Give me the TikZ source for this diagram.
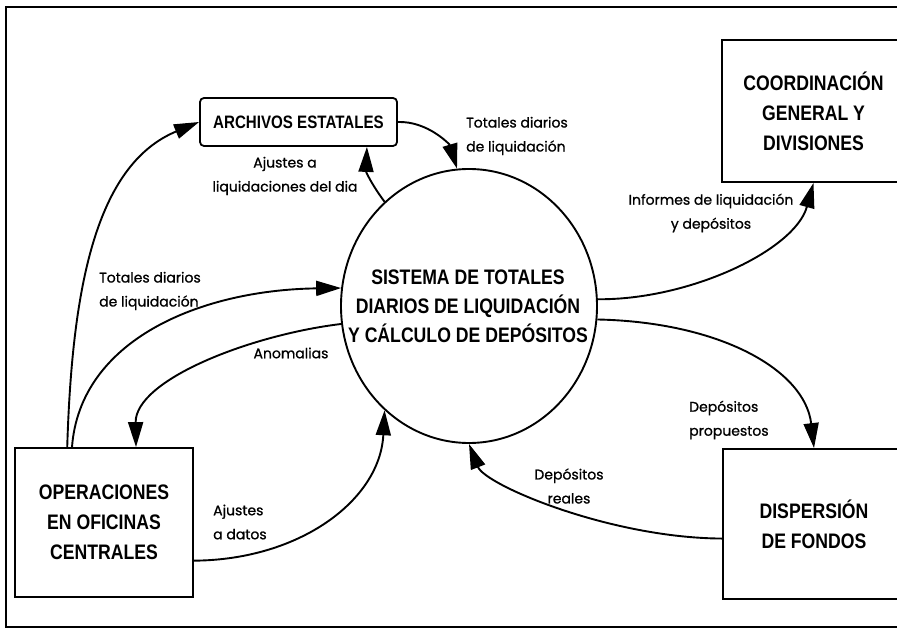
\documentclass[tikz,border=0pt]{standalone}
\usepackage{fontspec}
\setmainfont{Poppins}[FakeBold=0.9]
\newfontfamily\capsfont{Liberation Sans}[FakeStretch=0.84]
\usetikzlibrary{positioning,shapes.geometric,arrows.meta}

\begin{document}
\begin{tikzpicture}[x=1pt, y=-1pt,
    proceso/.style={ellipse, draw, line width=1.9pt, minimum width=256pt, minimum height=274pt, inner sep=0pt},
    entidad/.style={rectangle, draw, line width=1.8pt, align=center, on grid,
        font={\capsfont\bfseries\fontsize{21}{30}\selectfont}},
    archivo/.style={entidad, rounded corners=4pt, font={\capsfont\bfseries\fontsize{18}{22}\selectfont}},
    flujo/.style={line width=1.9pt, -{Triangle[length=25pt, width=15pt]}},
    etiqueta/.style={align=center, inner sep=0pt, font={\fontsize{14}{24}\selectfont}}]
    \useasboundingbox (0,0) rectangle (897,631);
    \clip (0,0) rectangle (897,631);
    \draw [line width=2pt] (6,7) rectangle (910,627);

    \node [proceso] (sis) at (469,306) {};
    \node [align=center, font={\capsfont\bfseries\fontsize{21}{29}\selectfont}] (sis_txt) at (468,306)
        {SISTEMA DE TOTALES\\DIARIOS DE LIQUIDACIÓN\\Y CÁLCULO DE DEPÓSITOS};
    \node [archivo, minimum width=197pt, minimum height=48pt, above left=184pt and 170.5pt of sis] (arch) {ARCHIVOS ESTATALES};
    \node [entidad, minimum width=183pt, minimum height=142pt, above right=195pt and 344.5pt of sis] (coord)
        {COORDINACIÓN\\GENERAL Y\\DIVISIONES};
    \node [entidad, minimum width=178pt, minimum height=149pt, below left=216.5pt and 365pt of sis] (ops)
        {OPERACIONES\\EN OFICINAS\\CENTRALES};
    \node [entidad, minimum width=182pt, minimum height=150pt, below right=218pt and 345pt of sis] (disp)
        {DISPERSIÓN\\DE FONDOS};

    % flujos de datos
    \draw [flujo] (ops.116) .. controls (72,290) and (95,165) .. (arch.west);
    \draw [flujo] (sis.129) .. controls (372,185) and (366,172) .. (arch.-20);
    \draw [flujo] (arch.east) .. controls (428,121) and (450,145) .. (sis.95);
    \draw [flujo] (sis.3) .. controls (690,300) and (795,250) .. (coord.south);
    \draw [flujo] (sis.-6) .. controls (720,322) and (805,370) .. (disp.north);
    \draw [flujo] (disp.189) .. controls (610,538) and (485,485) .. (sis.south);
    \draw [flujo] (ops.113) .. controls (80,340) and (200,290) .. (sis.172);
    \draw [flujo] (sis.188) .. controls (250,335) and (135,380) .. (ops.67);
    \draw [flujo] (ops.-23) .. controls (300,560) and (380,500) .. (sis.-129);

    \node [etiqueta] (l_ajliq) at (285,176) {Ajustes a\\liquidaciones del dia};
    \node [etiqueta, align=left, anchor=west] (l_totarch) at (466,136) {Totales diarios\\de liquidación};
    \node [etiqueta] (l_inf) at (711,213) {Informes de liquidación\\y depósitos};
    \node [etiqueta, align=left, anchor=west] (l_totops) at (99,291) {Totales diarios\\de liquidación};
    \node [etiqueta] (l_anom) at (291,353) {Anomalias};
    \node [etiqueta, align=left, anchor=west] (l_ajdat) at (213,522) {Ajustes\\a datos};
    \node [etiqueta, align=left, anchor=west] (l_deprop) at (689,420) {Depósitos\\propuestos};
    \node [etiqueta] (l_depreal) at (569,486) {Depósitos\\reales};
\end{tikzpicture}
\end{document}
